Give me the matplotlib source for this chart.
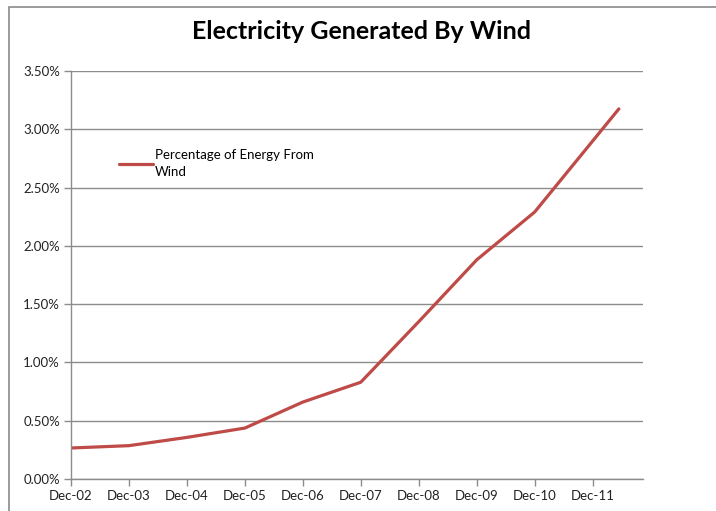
import matplotlib
matplotlib.use("Agg")
import matplotlib.pyplot as plt
import matplotlib.dates as mdates
from matplotlib.ticker import FuncFormatter
from matplotlib.patches import Rectangle
from datetime import datetime

# data
dates = ["2002-12-01", "2003-12-01", "2004-12-01", "2005-12-01", "2006-12-01",
         "2007-12-01", "2008-12-01", "2009-12-01", "2010-12-01", "2012-05-15"]
wind_pct = [0.266, 0.286, 0.357, 0.437, 0.66, 0.83, 1.35, 1.88, 2.29, 3.175]
tick_dates = ["2002-12-01", "2003-12-01", "2004-12-01", "2005-12-01", "2006-12-01",
              "2007-12-01", "2008-12-01", "2009-12-01", "2010-12-01", "2011-12-01"]

plt.rcParams['font.family'] = ['Lato', 'DejaVu Sans']

x = [datetime.strptime(d, "%Y-%m-%d") for d in dates]
xt = [datetime.strptime(d, "%Y-%m-%d") for d in tick_dates]

fig = plt.figure(figsize=(7.16, 5.11), dpi=100)
# outer chart border
fig.patches.append(Rectangle((9 / 716, -0.1), 1.2, 1 - 7 / 511 + 0.1, transform=fig.transFigure,
                             fill=False, edgecolor='#8a8a8a', linewidth=1.2))

ax = fig.add_axes([71 / 716, 32 / 511, 572 / 716, 408 / 511])
ax.plot(x, wind_pct, color='#BE4B48', linewidth=2.3, label='Percentage of Energy From\nWind',
        solid_capstyle='round', solid_joinstyle='round')

ax.set_ylim(0, 3.5)
ax.set_yticks([0, 0.5, 1.0, 1.5, 2.0, 2.5, 3.0, 3.5])
ax.yaxis.set_major_formatter(FuncFormatter(lambda v, p: "%.2f%%" % v))
ax.set_xlim(xt[0], datetime(2012, 10, 14))
ax.set_xticks(xt)
ax.xaxis.set_major_formatter(mdates.DateFormatter("Dec-%y"))

ax.grid(axis='y', color='#8c8c8c', linewidth=1)
ax.set_axisbelow(True)
for s in ['top', 'right']:
    ax.spines[s].set_visible(False)
for s in ['left', 'bottom']:
    ax.spines[s].set_color('#8c8c8c')
    ax.spines[s].set_linewidth(1)
ax.tick_params(axis='both', colors='#8c8c8c', length=5, width=1, labelsize=9.5, labelcolor='#222222')
ax.tick_params(axis='x', pad=3)
ax.tick_params(axis='y', pad=3)

fig.suptitle("Electricity Generated By Wind", x=(193 + 530) / 2 / 716, y=1 - 20 / 511,
             fontsize=18, fontweight='bold', va='top')

leg = ax.legend(loc='upper left', bbox_to_anchor=(48 / 572, (479 - 149) / 408), frameon=False,
                fontsize=9.5, handlelength=2.6, handletextpad=0.1, borderaxespad=0, borderpad=0)
for t in leg.get_texts():
    t.set_linespacing(1.5)

fig.savefig("out.png", dpi=100)
